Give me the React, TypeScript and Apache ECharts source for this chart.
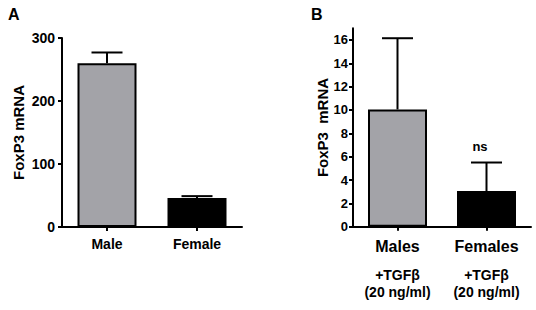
import React, { useEffect, useRef } from "react";
import * as echarts from "echarts";

const catsA = ["Male", "Female"];
const meanA = [260, 46];
const errA = [17, 3];
const ticksA = [0, 100, 200, 300];

const catsB = ["Males", "Females"];
const subB = ["+TGFβ", "(20 ng/ml)"];
const meanB = [10.05, 3.05];
const errB = [6.1, 2.45];
const ticksB = [0, 2, 4, 6, 8, 10, 12, 14, 16];

const barColors = ["#a3a3a8", "#000000"];
const FONT = "'Liberation Sans', Arial, sans-serif";

function errSeries(xi: number, mean: number[], err: number[]) {
  return {
    type: "custom",
    xAxisIndex: xi,
    yAxisIndex: xi,
    z: 5,
    data: mean.map((m, i) => [i, m, m + err[i]]),
    renderItem: (params: any, api: any) => {
      const lo = api.coord([api.value(0), api.value(1)]);
      const hi = api.coord([api.value(0), api.value(2)]);
      const hw = 15.5;
      const st = { stroke: "#000", lineWidth: 2 };
      return {
        type: "group",
        children: [
          { type: "line", shape: { x1: lo[0], y1: lo[1], x2: hi[0], y2: hi[1] }, style: st },
          { type: "line", shape: { x1: hi[0] - hw, y1: hi[1], x2: hi[0] + hw, y2: hi[1] }, style: st },
        ],
      };
    },
  };
}

export default function App() {
  const ref = useRef<HTMLDivElement>(null);
  useEffect(() => {
    const chart = echarts.init(ref.current!, null, { renderer: "svg" });
    const axisLine = { show: true, lineStyle: { color: "#000", width: 2 } };
    const tickStyle = { show: true, length: 4, lineStyle: { color: "#000", width: 2 } };
    chart.setOption({
      animation: false,
      textStyle: { fontFamily: FONT },
      grid: [
        { left: 62, right: 536 - 242, top: 38, bottom: 310 - 227 },
        { left: 353, right: 536 - 531, top: 28.3, bottom: 310 - 226.7 },
      ],
      xAxis: [
        {
          type: "category",
          gridIndex: 0,
          data: catsA,
          axisLine,
          axisTick: { ...tickStyle, alignWithLabel: true },
          axisLabel: { interval: 0, color: "#000", fontWeight: "bold", fontSize: 14, fontFamily: FONT, margin: 10 },
        },
        {
          type: "category",
          gridIndex: 1,
          data: catsB,
          axisLine,
          axisTick: { ...tickStyle, alignWithLabel: true },
          axisLabel: {
            interval: 0,
            hideOverlap: false,
            margin: 0,
            formatter: (v: string) => `{a|${v}}\n{b|${subB[0]}}\n{b|${subB[1]}}`,
            rich: {
              a: { color: "#000", fontWeight: "bold", fontSize: 16, fontFamily: FONT, lineHeight: 40 },
              b: { color: "#000", fontWeight: "bold", fontSize: 14, fontFamily: FONT, lineHeight: 17 },
            },
          },
        },
      ],
      yAxis: [
        {
          type: "value",
          gridIndex: 0,
          min: 0,
          max: 300,
          interval: 100,
          axisLine,
          axisTick: { ...tickStyle, customValues: ticksA },
          splitLine: { show: false },
          axisLabel: { color: "#000", fontWeight: "bold", fontSize: 14, fontFamily: FONT, margin: 7, customValues: ticksA },
          name: "FoxP3 mRNA",
          nameLocation: "middle",
          nameGap: 36,
          nameTextStyle: { color: "#000", fontWeight: "bold", fontSize: 15, fontFamily: FONT },
        },
        {
          type: "value",
          gridIndex: 1,
          min: 0,
          max: 17,
          interval: 2,
          axisLine,
          axisTick: { ...tickStyle, customValues: ticksB },
          splitLine: { show: false },
          axisLabel: { color: "#000", fontWeight: "bold", fontSize: 13, fontFamily: FONT, margin: 5, customValues: ticksB },
          name: "FoxP3  mRNA",
          nameLocation: "middle",
          nameGap: 23,
          nameTextStyle: { color: "#000", fontWeight: "bold", fontSize: 15, fontFamily: FONT },
        },
      ],
      series: [
        {
          type: "bar",
          xAxisIndex: 0,
          yAxisIndex: 0,
          barWidth: 59,
          data: meanA.map((v, i) => ({ value: v, itemStyle: { color: barColors[i], borderColor: "#000", borderWidth: 2 } })),
        },
        errSeries(0, meanA, errA),
        {
          type: "bar",
          xAxisIndex: 1,
          yAxisIndex: 1,
          barWidth: 59,
          data: meanB.map((v, i) => ({ value: v, itemStyle: { color: barColors[i], borderColor: "#000", borderWidth: 2 } })),
        },
        errSeries(1, meanB, errB),
      ],
      graphic: [
        { type: "text", left: 8, top: 6, style: { text: "A", fontSize: 16, fontWeight: "bold", fontFamily: FONT, fill: "#000" } },
        { type: "text", left: 311, top: 6, style: { text: "B", fontSize: 16, fontWeight: "bold", fontFamily: FONT, fill: "#000" } },
        { type: "text", x: 480, y: 146, style: { text: "ns", fontSize: 13, fontWeight: "bold", fontFamily: FONT, fill: "#000", align: "center", verticalAlign: "middle" } },
      ],
    });
    return () => chart.dispose();
  }, []);
  return <div ref={ref} style={{ width: 536, height: 310, position: "absolute", left: 0, top: 0 }} />;
}
